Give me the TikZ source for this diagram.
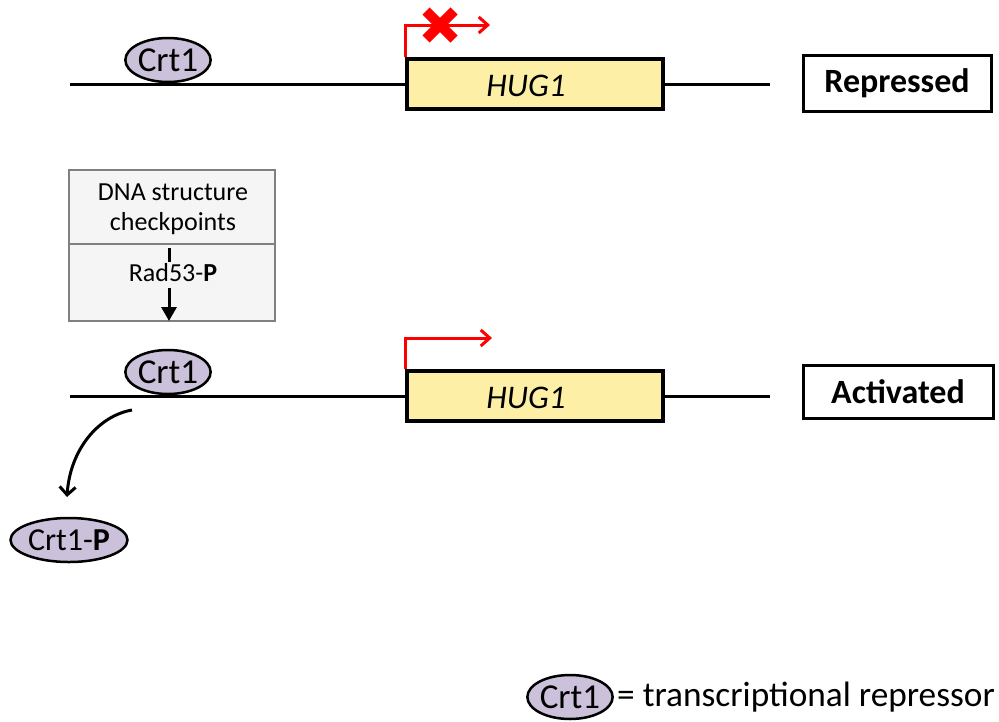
\documentclass[tikz,border=0pt]{standalone}
\usepackage{fontspec}
\setmainfont{Carlito}
\usetikzlibrary{shapes.geometric,arrows.meta}
\definecolor{lav}{HTML}{CCC1DA}
\definecolor{genefill}{HTML}{FDF0A6}
\definecolor{boxfill}{HTML}{F5F5F5}
\begin{document}
\begin{tikzpicture}[x=1pt,y=-1pt,
  dna/.style={line width=3pt},
  prot/.style={ellipse,draw,line width=2.5pt,fill=lav,inner sep=0pt,minimum width=84pt,minimum height=44pt,font=\fontsize{35}{38}\selectfont},
  gene/.style={draw,line width=3.5pt,fill=genefill,minimum width=256pt,minimum height=50pt,inner sep=0pt},
  genetext/.style={font=\fontsize{33}{36}\selectfont\itshape},
  state/.style={draw,line width=3pt,fill=white,inner sep=0pt,font=\fontsize{34}{38}\selectfont\bfseries},
  prom/.style={red,line width=3pt,-{Straight Barb[length=9pt,width=16pt,line width=3pt]}},
  small/.style={font=\fontsize{26}{30}\selectfont}
]
\useasboundingbox (0,0) rectangle (999,721);
% top row
\coordinate (l1a) at (70,84);
\coordinate (l1b) at (770,84);
\draw[dna] (l1a) -- (l1b);
\node[gene] (g1) at (535,84) {};
\node[genetext] (g1t) at (526,86) {HUG1};
\node[prot] (c1) at (168,60) {Crt1};
\coordinate (p1) at (490,25);
\draw[prom] (g1.north west) |- (p1);
\draw[red,line width=10pt] (426,11) -- (454,39) (454,11) -- (426,39);
\node[state,minimum width=188pt,minimum height=56pt] (rep) at (897,83) {Repressed};
% checkpoint box
\node[draw=gray,line width=1.5pt,fill=boxfill,minimum width=206pt,minimum height=151pt,inner sep=0pt] (cp) at (172,245.5) {};
\draw[gray,line width=1.5pt] (cp.west |- 0,244) -- (cp.east |- 0,244);
\node[small,align=center] (dna) at (173,209) {DNA structure\\checkpoints};
\node[small] (rad) at (173,273) {Rad53-\textbf{P}};
\coordinate (d1) at (169,248);
\coordinate (d2) at (169,262);
\draw[line width=3pt] (d1) -- (d2);
\coordinate (a1) at (169,288);
\coordinate (a2) at (169,321);
\draw[line width=3pt,-{Triangle[length=14pt,width=15pt]}] (a1) -- (a2);
% second row
\coordinate (l2a) at (70,396);
\coordinate (l2b) at (770,396);
\draw[dna] (l2a) -- (l2b);
\node[gene] (g2) at (535,396) {};
\node[genetext] (g2t) at (526,398) {HUG1};
\node[prot] (c2) at (168,372) {Crt1};
\coordinate (p2) at (492,338);
\draw[prom] (g2.north west) |- (p2);
\node[state,minimum width=190pt,minimum height=53pt] (act) at (898,392) {Activated};
% released Crt1-P
\node[prot,minimum width=117pt,font=\fontsize{32}{36}\selectfont] (cp1) at (69,540) {Crt1-\textbf{P}};
\coordinate (rel) at (132,410);
\draw[line width=3pt,-{Straight Barb[length=8pt,width=16pt,line width=3pt]}] (rel) .. controls (98,416) and (70,450) .. (67,497);
% legend
\node[prot,minimum width=80pt] (leg) at (570,697) {Crt1};
\node[anchor=west,inner sep=0pt,font=\fontsize{35.3}{40}\selectfont] (legt) at (617,697) {= transcriptional repressor};
\end{tikzpicture}
\end{document}
